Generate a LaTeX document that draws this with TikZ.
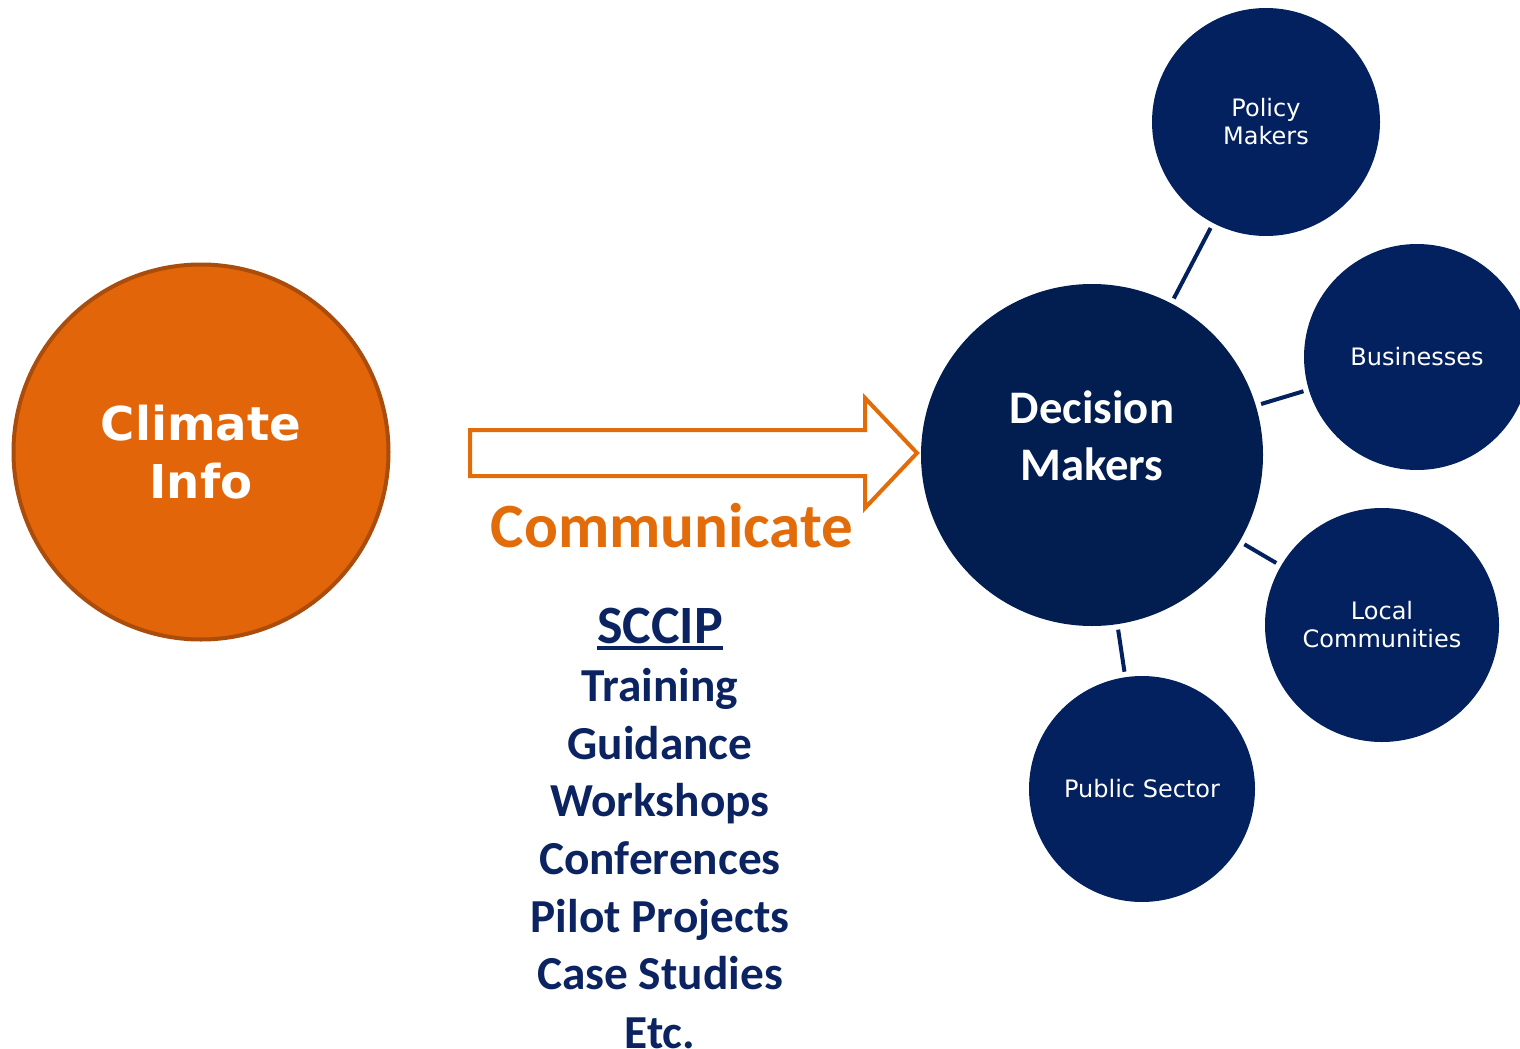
\documentclass[tikz,border=0pt]{standalone}
\usepackage{fontspec}
\setmainfont{Carlito}
\newfontfamily\verdana{DejaVu Sans}
\usetikzlibrary{positioning}

\definecolor{infoorange}{HTML}{E36509}
\definecolor{infoborder}{HTML}{A94C0C}
\definecolor{arroworange}{HTML}{E36C0A}
\definecolor{dmnavy}{HTML}{021E50}
\definecolor{groupnavy}{HTML}{03215E}
\definecolor{listnavy}{HTML}{0B2461}

% thick underline for the heading of the list
\newcommand\thickul[1]{\leavevmode\vtop{\hbox{#1}\kern1.6pt\hrule height 3pt}}

\tikzset{
  infocircle/.style={circle, fill=infoorange, draw=infoborder, line width=3pt,
    minimum size=375*0.75pt, inner sep=0pt, text=white, align=center,
    font=\verdana\bfseries\fontsize{35}{43}\selectfont},
  dmcircle/.style={circle, fill=dmnavy, minimum size=342*0.75pt, inner sep=0pt},
  dmtext/.style={text=white, align=center, font=\bfseries\fontsize{35}{43}\selectfont},
  groupcircle/.style={circle, fill=groupnavy, inner sep=0pt, text=white, align=center,
    font=\verdana\fontsize{18}{21}\selectfont},
  link/.style={draw=groupnavy, line width=3pt, shorten <=4pt, shorten >=4pt},
  blockarrow/.style={draw=arroworange, line width=3pt, fill=white, miter limit=10},
  listitem/.style={text=listnavy, font=\bfseries\fontsize{35.5}{40}\selectfont,
    text height=0.62em, text depth=0.22em, inner sep=0pt}
}

\begin{document}
\begin{tikzpicture}[x=0.75pt, y=-0.75pt, node distance=57.6*0.75pt]
  \useasboundingbox (0,0) rectangle (1520,1049);

  % source
  \node[infocircle] (info) at (201,452) {\raisebox{-2pt}{Climate}\\\raisebox{-2pt}{Info}};

  % big arrow
  \draw[blockarrow] (470,430) -- (865,430) -- (865,398) -- (917,453)
    -- (865,508) -- (865,476) -- (470,476) -- cycle;
  \node (comm) at (672,526) [text=arroworange, inner sep=0pt,
    font=\bfseries\fontsize{47.3}{50}\selectfont] {Communicate};

  % channels
  \node (sccip) at (660,641) [listitem, font=\bfseries\fontsize{40.5}{44}\selectfont] {\thickul{SCCIP}};
  \node (training) at (660,699) [listitem] {Training};
  \node (guidance) [listitem, below of=training] {Guidance};
  \node (workshops) [listitem, below of=guidance] {Workshops};
  \node (conferences) [listitem, below of=workshops] {Conferences};
  \node (pilot) [listitem, below of=conferences] {Pilot Projects};
  \node (cases) [listitem, below of=pilot] {Case Studies};
  \node (etc) [listitem, below of=cases, text depth=0pt] {Etc.};

  % decision makers and groups
  \node[dmcircle] (dm) at (1092,455) {};
  \node[dmtext] (dmlabel) at (1092,436) {Decision\\Makers};
  \node[groupcircle, minimum size=228*0.75pt] (policy) at (1266,122) {Policy\\Makers};
  \node[groupcircle, minimum size=226*0.75pt] (business) at (1417,357) {Businesses};
  \node[groupcircle, minimum size=234*0.75pt] (local) at (1382,625) {Local\\Communities};
  \node[groupcircle, minimum size=226*0.75pt] (public) at (1142,789) {Public Sector};

  \draw[link] (dm) -- (policy);
  \draw[link] (dm) -- (business);
  \draw[link] (dm) -- (local);
  \draw[link] (dm) -- (public);
\end{tikzpicture}
\end{document}
